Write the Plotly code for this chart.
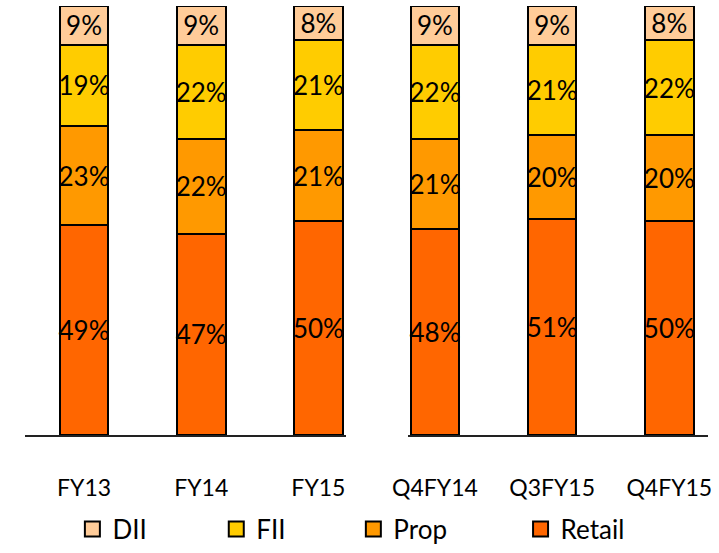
import plotly.graph_objects as go

left_cats = ["FY13", "FY14", "FY15"]
right_cats = ["Q4FY14", "Q3FY15", "Q4FY15"]

series_names = ["Retail", "Prop", "FII", "DII"]
left_vals = {
    "Retail": [49, 47, 50],
    "Prop": [23, 22, 21],
    "FII": [19, 22, 21],
    "DII": [9, 9, 8],
}
right_vals = {
    "Retail": [48, 50.5, 50],
    "Prop": [21, 19.5, 20],
    "FII": [22, 21, 22],
    "DII": [9, 9, 8],
}
# printed labels
left_labels = {
    "Retail": ["49%", "47%", "50%"],
    "Prop": ["23%", "22%", "21%"],
    "FII": ["19%", "22%", "21%"],
    "DII": ["9%", "9%", "8%"],
}
right_labels = {
    "Retail": ["48%", "51%", "50%"],
    "Prop": ["21%", "20%", "20%"],
    "FII": ["22%", "21%", "22%"],
    "DII": ["9%", "9%", "8%"],
}
colors = {"Retail": "#FF6600", "Prop": "#FF9900", "FII": "#FFCC00", "DII": "#FFCC99"}
legend_ids = {"DII": "legend", "FII": "legend2", "Prop": "legend3", "Retail": "legend4"}
legend_x = {"DII": 58, "FII": 206, "Prop": 347, "Retail": 519}

W, H = 719, 553
FONT = "Lato"

fig = go.Figure()
for name in series_names:
    for cats, vals, labs, xa, ya in [
        (left_cats, left_vals, left_labels, "x", "y"),
        (right_cats, right_vals, right_labels, "x2", "y2"),
    ]:
        fig.add_trace(go.Bar(
            x=cats, y=vals[name], name=name,
            xaxis=xa, yaxis=ya, showlegend=False, legendgroup=name,
            marker=dict(color=colors[name], line=dict(color="black", width=2)),
            width=0.415,
            text=labs[name],
            textposition="inside", insidetextanchor="middle",
            textangle=0, constraintext="none",
            textfont=dict(size=26, color="black", family=FONT),
        ))

# legend entries (square swatches)
for name in series_names:
    fig.add_trace(go.Scatter(
        x=[None], y=[None], mode="markers", name=name,
        xaxis="x", yaxis="y", legendgroup=name, legend=legend_ids[name],
        marker=dict(symbol="square", size=15, color=colors[name],
                    line=dict(color="black", width=2)),
        showlegend=True,
    ))

ydom = [112 / H, 547 / H]
leg_common = dict(orientation="h", xanchor="left", y=17 / H, yanchor="middle",
                  font=dict(size=26), itemwidth=30, bgcolor="rgba(0,0,0,0)")
legends = {}
for name, lid in legend_ids.items():
    legends[lid] = dict(x=legend_x[name] / W, **leg_common)

fig.update_layout(
    width=W, height=H,
    margin=dict(l=0, r=0, t=0, b=0),
    barmode="stack",
    plot_bgcolor="white", paper_bgcolor="white",
    font=dict(family=FONT, color="black"),
    xaxis=dict(domain=[9 / W, 339 / W], anchor="y", range=[-0.506, 2.232],
               showline=True, linecolor="#222222", linewidth=2, ticks="",
               ticklabelstandoff=31, tickfont=dict(size=23), showgrid=False),
    xaxis2=dict(domain=[403 / W, 712 / W], anchor="y2", range=[-0.232, 2.332],
                showline=True, linecolor="#222222", linewidth=2, ticks="",
                ticklabelstandoff=31, tickfont=dict(size=23), showgrid=False),
    yaxis=dict(domain=ydom, range=[0, 100], visible=False),
    yaxis2=dict(domain=ydom, range=[0, 100], visible=False, anchor="x2"),
    showlegend=True,
    **legends,
)

fig.write_html("out.html")
